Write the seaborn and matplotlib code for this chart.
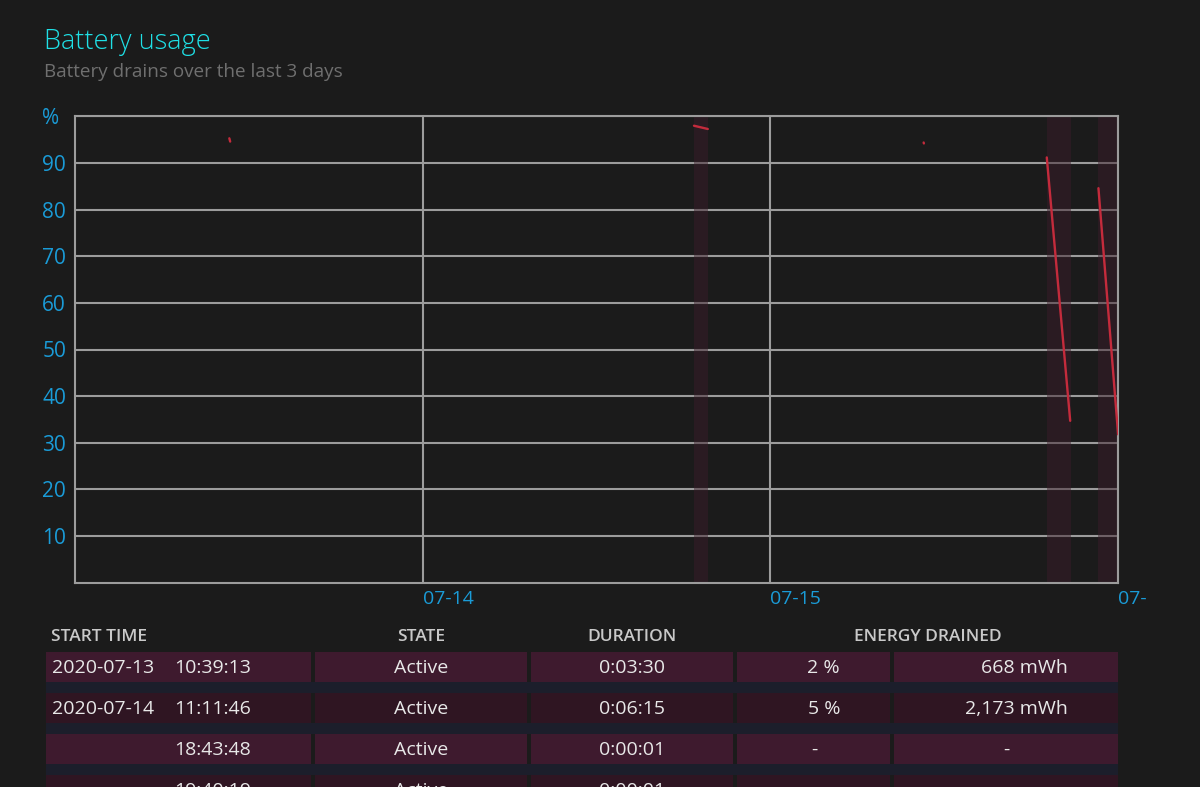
import matplotlib
matplotlib.use("Agg")
import matplotlib.pyplot as plt
import matplotlib.dates as mdates
from matplotlib.patches import Rectangle
import pandas as pd
import seaborn as sns

# ---------------- data ----------------
seg_start = ["2020-07-13 10:39:13", "2020-07-14 18:43:48", "2020-07-15 10:35:00",
             "2020-07-15 19:05:00", "2020-07-15 22:39:00"]
seg_end = ["2020-07-13 10:42:43", "2020-07-14 19:41:00", "2020-07-15 10:36:00",
           "2020-07-15 20:42:00", "2020-07-16 00:00:30"]
pct_start = [95.3, 98.0, 94.4, 91.2, 84.6]
pct_end = [94.6, 97.3, 94.2, 34.7, 31.8]

band_start = ["2020-07-14 18:43:48", "2020-07-15 19:05:00", "2020-07-15 22:39:00"]
band_end = ["2020-07-14 19:41:00", "2020-07-15 20:45:00", "2020-07-16 00:40:00"]

y_ticks = [10, 20, 30, 40, 50, 60, 70, 80, 90, 100]
y_labels = ["10", "20", "30", "40", "50", "60", "70", "80", "90", "%"]
x_ticks = ["2020-07-14", "2020-07-15", "2020-07-16"]
x_labels = ["07-14", "07-15", "07-"]

headers = ["START TIME", "STATE", "DURATION", "ENERGY DRAINED"]
col_date = ["2020-07-13", "2020-07-14", "", ""]
col_time = ["10:39:13", "11:11:46", "18:43:48", "19:40:19"]
col_state = ["Active", "Active", "Active", "Active"]
col_duration = ["0:03:30", "0:06:15", "0:00:01", "0:00:01"]
col_pct = ["2 %", "5 %", "-", "-"]
col_mwh = ["668 mWh", "2,173 mWh", "-", "-"]

# ---------------- style ----------------
BG = "#1b1b1b"
GRID = "#9c9c9c"
BLUE = "#1a9bd7"
RED = "#c42b3c"

sns.set_theme(style="dark", rc={"figure.facecolor": BG, "axes.facecolor": BG,
                                "savefig.facecolor": BG})
plt.rcParams["font.family"] = ["Open Sans", "DejaVu Sans"]

W, H = 1200, 787
fig = plt.figure(figsize=(12, 7.87), dpi=100)
ax = fig.add_axes([75 / W, 1 - 582.6 / H, (1118 - 75) / W, (582.6 - 116.4) / H])

rows = []
for i in range(len(seg_start)):
    rows.append({"seg": i, "time": pd.Timestamp(seg_start[i]), "pct": pct_start[i]})
    rows.append({"seg": i, "time": pd.Timestamp(seg_end[i]), "pct": pct_end[i]})
df = pd.DataFrame(rows)

# discharge periods shaded behind the drain lines
for s, e in zip(band_start, band_end):
    ax.axvspan(pd.Timestamp(s), pd.Timestamp(e), color="#3b1d2a", alpha=0.47, lw=0, zorder=2)

sns.lineplot(data=df, x="time", y="pct", units="seg", estimator=None, color=RED,
             lw=1.7, ax=ax, legend=False, zorder=3)

ax.set_xlim(pd.Timestamp("2020-07-13"), pd.Timestamp("2020-07-16"))
ax.set_ylim(0, 100)
ax.set_yticks(y_ticks)
ax.set_yticklabels(y_labels)
ax.set_xticks([mdates.date2num(pd.Timestamp(t)) for t in x_ticks])
ax.set_xticklabels(x_labels)
ax.grid(True, color=GRID, lw=1.5, zorder=1)
ax.set_axisbelow(True)
ax.set_xlabel("")
ax.set_ylabel("")
for sp in ax.spines.values():
    sp.set_visible(True)
    sp.set_color(GRID)
    sp.set_linewidth(1.5)
ax.tick_params(axis="y", length=0, pad=23.5, labelsize=15, labelcolor=BLUE)
ax.tick_params(axis="x", length=0, pad=5, labelsize=14, labelcolor=BLUE)
for lab in ax.get_yticklabels():
    lab.set_horizontalalignment("left")
for lab in ax.get_xticklabels():
    lab.set_horizontalalignment("left")

fig.text(44 / W, 1 - 42 / H, "Battery usage", color="#1fe0e6", fontsize=19.5,
         fontweight="light", va="center", ha="left")
fig.text(44 / W, 1 - 72 / H, "Battery drains over the last 3 days", color="#6f6f6f",
         fontsize=13.6, va="center", ha="left")

# ---------------- table below the chart ----------------
tab = fig.add_axes([0, 0, 1, 1], zorder=-1)
tab.set_xlim(0, W)
tab.set_ylim(H, 0)
tab.axis("off")

hdr = dict(color="#c9c9c9", fontsize=12.5, fontweight="semibold", va="center")
hdr_y = 637
tab.text(51, hdr_y, headers[0], ha="left", **hdr)
tab.text(421, hdr_y, headers[1], ha="center", **hdr)
tab.text(632, hdr_y, headers[2], ha="center", **hdr)
tab.text(928, hdr_y, headers[3], ha="center", **hdr)

cols = [(46, 311), (315, 527), (531, 733), (737, 890), (894, 1118)]
row_top = [652, 693, 734, 775]
row_h = 30
for r, top in enumerate(row_top):
    fill = "#3e1a2e" if r % 2 == 0 else "#2f1522"
    if r > 0:
        tab.add_patch(Rectangle((46, top - 11), 1118 - 46, 11, color="#1c1e2b", lw=0))
    for x0, x1 in cols:
        tab.add_patch(Rectangle((x0, top), x1 - x0, row_h, color=fill, lw=0))
    cy = top + row_h / 2 + 1
    kw = dict(color="#e8e8e8", fontsize=14, va="center")
    if col_date[r]:
        tab.text(52, cy, col_date[r], ha="left", **kw)
    tab.text(174, cy, col_time[r], ha="left", **kw)
    tab.text(421, cy, col_state[r], ha="center", **kw)
    tab.text(632, cy, col_duration[r], ha="center", **kw)
    if col_pct[r] == "-":
        tab.text(814, cy, "-", ha="center", **kw)
    else:
        tab.text(840, cy, col_pct[r], ha="right", **kw)
    if col_mwh[r] == "-":
        tab.text(1006, cy, "-", ha="center", **kw)
    else:
        tab.text(1068, cy, col_mwh[r], ha="right", **kw)

fig.savefig("out.png", dpi=100, facecolor=BG)
